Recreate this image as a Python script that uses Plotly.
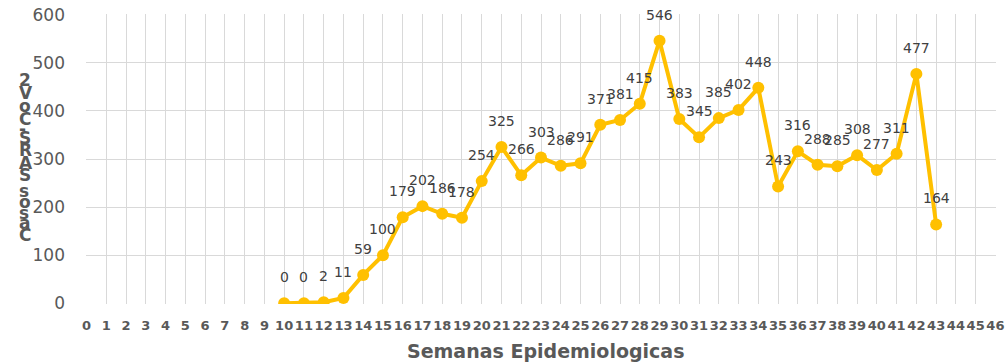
import plotly.graph_objects as go

# Weekly SARS-CoV-2 case counts by epidemiological week
weeks = list(range(10, 44))
cases = [0, 0, 2, 11, 59, 100, 179, 202, 186, 178, 254, 325, 266, 303, 286, 291,
         371, 381, 415, 546, 383, 345, 385, 402, 448, 243, 316, 288, 285, 308,
         277, 311, 477, 164]

week_ticks = list(range(0, 47))
y_ticks = [0, 100, 200, 300, 400, 500, 600]
x_title = "Semanas Epidemiologicas"
y_title = "Casos SARS-CoV2"

GOLD = "#FFC000"
GRID = "#D9D9D9"
AXIS_TXT = "#595959"
LABEL_TXT = "#404040"

W, H = 1007, 364
ML, MR, MT, MB = 86, 11, 14, 60
plot_h = H - MT - MB

fig = go.Figure()
fig.add_trace(go.Scatter(
    x=weeks, y=cases, mode="lines+markers",
    line=dict(color=GOLD, width=4),
    marker=dict(color=GOLD, size=12),
    hoverinfo="x+y", showlegend=False,
))

annotations = []
# value labels above each point
for w, c in zip(weeks, cases):
    annotations.append(dict(
        x=w, y=c, xref="x", yref="y", text=str(c), showarrow=False,
        yshift=26, xanchor="center", yanchor="middle",
        font=dict(family="DejaVu Sans", size=14, color=LABEL_TXT),
    ))

# vertical title drawn as stacked characters, read bottom to top
adv = {"C": .53, "a": .48, "s": .39, "o": .53, " ": .23, "S": .46, "A": .58,
       "R": .54, "-": .31, "V": .58, "2": .51}
chars = list(y_title)
bottom_c, top_c = 235, 80
centers = []
pos = 0.0
for i, ch in enumerate(chars):
    if i > 0:
        pos += adv[chars[i - 1]] / 2 + adv[ch] / 2
    centers.append(pos)
scale = (bottom_c - top_c) / centers[-1]
for ch, p in zip(chars, centers):
    ypix = bottom_c - p * scale
    annotations.append(dict(
        x=0, y=0, xref="paper", yref="paper", text=ch, showarrow=False,
        xanchor="left", yanchor="middle",
        xshift=17 - ML, yshift=(H - MB) - ypix,
        font=dict(family="DejaVu Sans", size=17, color=AXIS_TXT, weight="bold"),
    ))

# horizontal axis title
annotations.append(dict(
    x=(545 - ML) / (W - ML - MR), y=0, xref="paper", yref="paper",
    text=f"<b>{x_title}</b>", showarrow=False, xanchor="center", yanchor="middle",
    yshift=(H - MB) - 351,
    font=dict(family="DejaVu Sans", size=19, color=AXIS_TXT),
))

fig.update_layout(
    width=W, height=H,
    margin=dict(l=ML, r=MR, t=MT, b=MB, pad=0, autoexpand=False),
    paper_bgcolor="white", plot_bgcolor="white",
    annotations=annotations,
    xaxis=dict(
        range=[-0.03, 46.03], tickmode="array", tickvals=week_ticks,
        ticktext=[str(v) for v in week_ticks], tickangle=0, automargin=False,
        showgrid=True, gridcolor=GRID, gridwidth=1.3, zeroline=False,
        showline=False, ticks="", ticklabelstandoff=12,
        tickfont=dict(family="DejaVu Sans", size=13, color=AXIS_TXT, weight="bold"),
    ),
    yaxis=dict(
        range=[-1.5, 601.5], tickmode="array", tickvals=y_ticks, automargin=False,
        showgrid=True, gridcolor=GRID, gridwidth=1.3, zeroline=False,
        showline=False, ticks="", ticklabelstandoff=20,
        tickfont=dict(family="DejaVu Sans", size=17, color=AXIS_TXT),
    ),
)

fig.write_html("out.html")
